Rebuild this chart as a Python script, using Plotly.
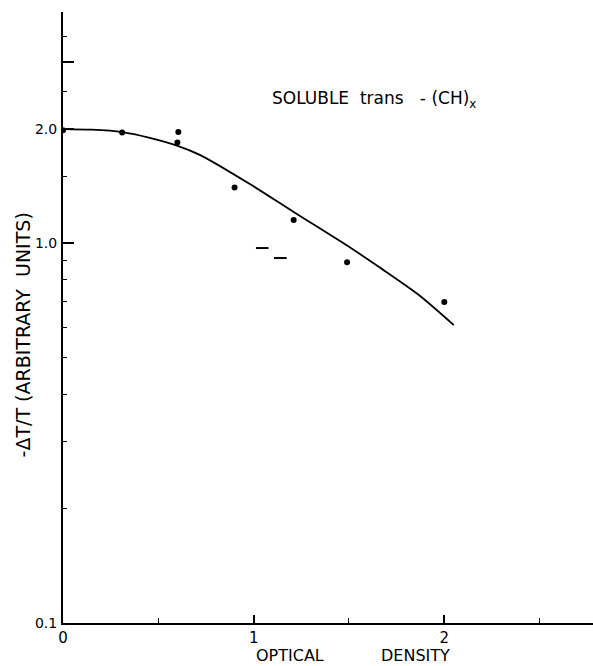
import plotly.graph_objects as go

# measured points
pt_x = [0.0, 0.31, 0.605, 0.60, 0.90, 1.21, 1.49, 2.0]
pt_y = [1.98, 1.955, 1.96, 1.84, 1.40, 1.15, 0.89, 0.70]

# short dash marks
dash_x = [1.045, 1.14]
dash_y = [0.97, 0.913]

# smooth curve
curve_x = [0.0, 0.15, 0.31, 0.45, 0.605, 0.72, 0.98, 1.21, 1.51, 1.65, 1.86, 2.05]
curve_y = [1.995, 1.987, 1.959, 1.895, 1.80, 1.704, 1.43, 1.207, 0.97, 0.87, 0.734, 0.608]

x_major = [0, 1, 2]
x_major_text = ["0", "1", "2"]
x_minor = [0.5, 1.5, 2.5]

y_major = [0.1, 1, 2, 3]
y_major_text = ["0.1", "1.0", "2.0", ""]
y_minor = [0.2, 0.3, 0.4, 0.5, 0.6, 0.7, 0.8, 0.9, 1.5, 2.5, 3.5]

FONT = "DejaVu Sans"

fig = go.Figure()
fig.add_trace(go.Scatter(x=curve_x, y=curve_y, mode="lines",
                         line=dict(color="black", width=1.8, shape="spline", smoothing=0.8),
                         showlegend=False, hoverinfo="skip"))
fig.add_trace(go.Scatter(x=pt_x, y=pt_y, mode="markers",
                         marker=dict(color="black", size=6),
                         showlegend=False))
fig.add_trace(go.Scatter(x=dash_x, y=dash_y, mode="markers",
                         marker=dict(symbol="line-ew", size=9,
                                     line=dict(color="black", width=2)),
                         showlegend=False))

fig.update_layout(
    width=593, height=666,
    margin=dict(l=63, r=0, t=12, b=43),
    paper_bgcolor="white", plot_bgcolor="white",
    font=dict(family=FONT, size=14, color="black"),
    xaxis=dict(range=[0, 2.78], showgrid=False, zeroline=False,
               showline=True, linecolor="black", linewidth=2,
               tickmode="array", tickvals=x_major, ticktext=x_major_text,
               ticks="inside", ticklen=8, tickwidth=1.5, tickcolor="black",
               minor=dict(tickvals=x_minor, ticks="inside", ticklen=5,
                          tickwidth=1.2, tickcolor="black"),
               tickfont=dict(size=15), ticklabelstandoff=0),
    yaxis=dict(type="log", range=[-1, 0.608], showgrid=False, zeroline=False,
               showline=True, linecolor="black", linewidth=2,
               tickmode="array", tickvals=y_major, ticktext=y_major_text,
               ticks="inside", ticklen=11, tickwidth=1.5, tickcolor="black",
               minor=dict(tickvals=y_minor, ticks="inside", ticklen=4,
                          tickwidth=1.2, tickcolor="black"),
               tickfont=dict(size=14), ticklabelstandoff=1),
)

fig.add_annotation(text="-ΔT/T (ARBITRARY  UNITS)", textangle=-90,
                   xref="paper", yref="paper", x=-0.075, y=0.471,
                   xanchor="center", yanchor="middle",
                   showarrow=False, font=dict(size=19, family=FONT))
fig.add_annotation(text="OPTICAL", xref="x", yref="paper",
                   x=1.19, y=-0.054, xanchor="center", yanchor="middle",
                   showarrow=False, font=dict(size=16, family=FONT))
fig.add_annotation(text="DENSITY", xref="x", yref="paper",
                   x=1.85, y=-0.054, xanchor="center", yanchor="middle",
                   showarrow=False, font=dict(size=16, family=FONT))
fig.add_annotation(text="SOLUBLE  trans   - (CH)<sub>x</sub>", xref="x", yref="paper",
                   x=1.63, y=0.856, xanchor="center", yanchor="middle",
                   showarrow=False, font=dict(size=17, family=FONT))

fig.write_html("out.html")
